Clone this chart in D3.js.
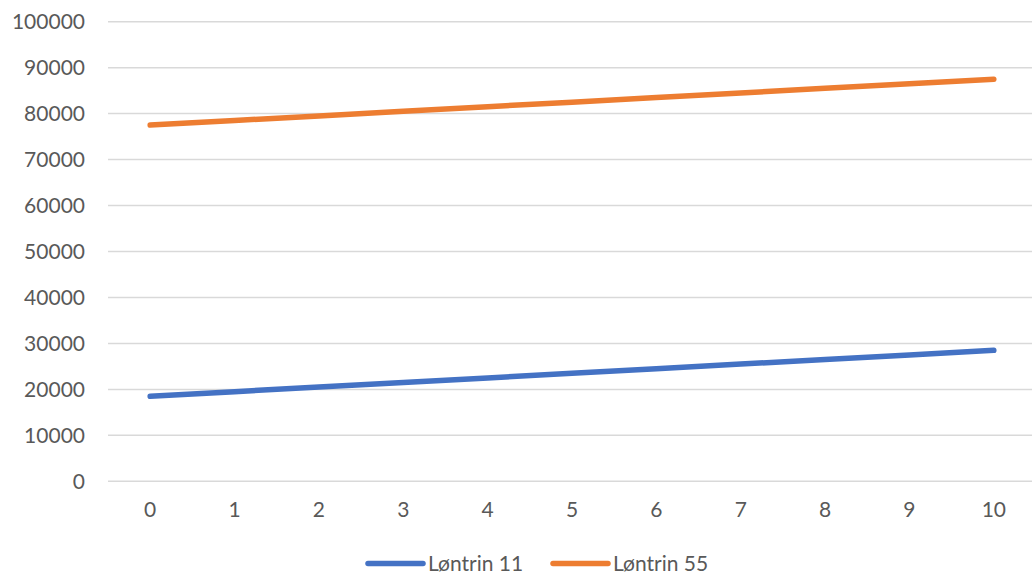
<!DOCTYPE html>
<html>
<head>
<meta charset="utf-8">
<script src="https://cdn.jsdelivr.net/npm/d3@7"></script>
<style>
  html, body { margin: 0; padding: 0; background: #fff; }
  svg { display: block; }
  text { font-family: Lato, "Open Sans", sans-serif; fill: #595959; }
</style>
</head>
<body>
<svg id="chart" width="1032" height="576"></svg>
<script>
// Years on the pay scale
const years = [0, 1, 2, 3, 4, 5, 6, 7, 8, 9, 10];
// Monthly pay per salary step
const loentrin11 = [18500, 19500, 20500, 21500, 22500, 23500, 24500, 25500, 26500, 27500, 28500];
const loentrin55 = [77500, 78500, 79500, 80500, 81500, 82500, 83500, 84500, 85500, 86500, 87500];
const seriesNames = ["Løntrin 11", "Løntrin 55"];
const seriesColors = ["#4472C4", "#ED7D31"];
const yTicks = [0, 10000, 20000, 30000, 40000, 50000, 60000, 70000, 80000, 90000, 100000];

const svg = d3.select("#chart");
const plotLeft = 108, plotRight = 1036, plotTop = 21.7, plotBottom = 481.3;
const fontSize = "21px";

const x = d3.scaleBand().domain(years).range([plotLeft, plotRight]).padding(0);
const y = d3.scaleLinear().domain([0, 100000]).range([plotBottom, plotTop]);
const cx = d => x(d) + x.bandwidth() / 2;

// Horizontal gridlines
svg.append("g")
  .selectAll("line")
  .data(yTicks)
  .join("line")
  .attr("x1", plotLeft).attr("x2", 1032)
  .attr("y1", d => y(d)).attr("y2", d => y(d))
  .attr("stroke", "#D9D9D9")
  .attr("stroke-width", 1.5);

// Y axis labels
const yAxis = d3.axisLeft(y).tickValues(yTicks).tickSize(0).tickPadding(0).tickFormat(d3.format("d"));
const gy = svg.append("g").attr("transform", `translate(${plotLeft - 23},0)`).call(yAxis);
gy.select(".domain").remove();
gy.selectAll("text").style("font-size", fontSize).attr("fill", "#595959")
  .style("font-family", "Lato, 'Open Sans', sans-serif");

// X axis labels
const xAxis = d3.axisBottom(x).tickSize(0).tickPadding(0);
const gx = svg.append("g").attr("transform", `translate(0,${plotBottom + 21})`).call(xAxis);
gx.select(".domain").remove();
gx.selectAll("text").style("font-size", fontSize).attr("fill", "#595959")
  .style("font-family", "Lato, 'Open Sans', sans-serif");

// Series lines
const line = d3.line().x((d, i) => cx(years[i])).y(d => y(d));
[loentrin11, loentrin55].forEach((vals, i) => {
  svg.append("path")
    .datum(vals)
    .attr("d", line)
    .attr("fill", "none")
    .attr("stroke", seriesColors[i])
    .attr("stroke-width", 5.5)
    .attr("stroke-linecap", "round")
    .attr("stroke-linejoin", "round");
});

// Legend
const legendX = [368, 553];
const legend = svg.append("g");
seriesNames.forEach((name, i) => {
  const g = legend.append("g").attr("transform", `translate(${legendX[i]},563.5)`);
  g.append("line")
    .attr("x1", 0).attr("x2", 55)
    .attr("stroke", seriesColors[i])
    .attr("stroke-width", 5.5)
    .attr("stroke-linecap", "round");
  g.append("text")
    .attr("x", 60).attr("y", 7.5)
    .style("font-size", fontSize)
    .text(name);
});
</script>
</body>
</html>
